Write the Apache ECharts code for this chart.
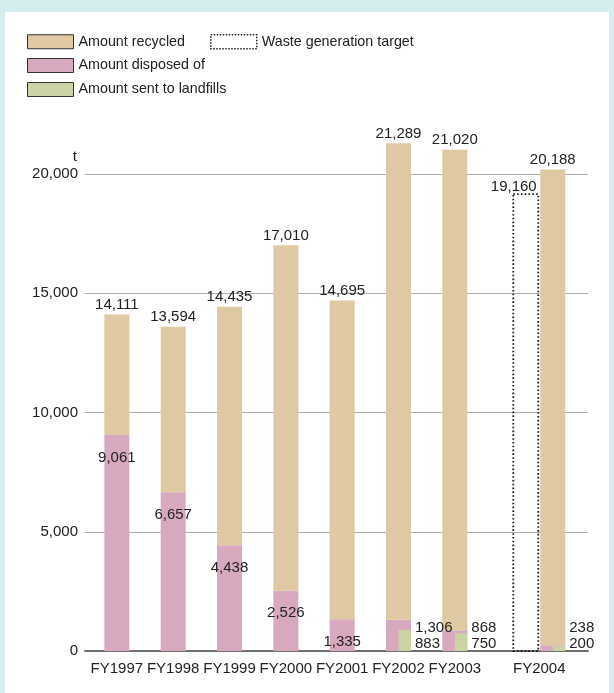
<!DOCTYPE html>
<html>
<head>
<meta charset="utf-8">
<script src="https://cdn.jsdelivr.net/npm/echarts@6/dist/echarts.min.js"></script>
<style>
html, body { margin: 0; padding: 0; background: #d4edef; }
#panel { position: absolute; left: 5px; top: 12px; right: 5px; bottom: 0; background: #fff; }
#main { position: absolute; left: 0; top: 0; width: 614px; height: 693px; }
</style>
</head>
<body>
<div id="panel"></div>
<div id="main"></div>
<script>
var years = ['FY1997', 'FY1998', 'FY1999', 'FY2000', 'FY2001', 'FY2002', 'FY2003', 'FY2004'];
var totals = [14111, 13594, 14435, 17010, 14695, 21289, 21020, 20188];
var disposed = [9061, 6657, 4438, 2526, 1335, 1306, 868, 238];
var landfill = [null, null, null, null, null, 883, 750, 200];
var target = [null, null, null, null, null, null, null, 19160];
var yTicks = [0, 5000, 10000, 15000, 20000];

var font = 'Liberation Sans, Arial, sans-serif';
var tan = '#dfc9a2', pink = '#d8a8bf', green = '#cbd3a5';
var barW = 25, barGapPx = 2;
var valueSize = 15;

function fmt(v) {
    return String(v).replace(/\B(?=(\d{3})+(?!\d))/g, ',');
}

// a year with a target holds two columns, so its slot on the axis is twice as wide
var centers = [];
var pos = 0;
years.forEach(function (y, i) {
    var w = target[i] != null ? 2 : 1;
    centers.push(pos + w / 2);
    pos += w;
});
var xMax = pos;

function shiftOf(i) {
    return target[i] != null ? (barW + barGapPx) / 2 : 0;
}

function textStyle(extra) {
    var s = { fill: '#222', fontSize: valueSize, fontFamily: font };
    for (var k in extra) s[k] = extra[k];
    return s;
}

var recycledData = years.map(function (y, i) { return [centers[i], totals[i], i]; });
var disposedData = years.map(function (y, i) { return [centers[i], disposed[i], i]; });
var targetData = [];
var landfillData = [];
years.forEach(function (y, i) {
    if (target[i] != null) targetData.push([centers[i], target[i], i]);
    if (landfill[i] != null) landfillData.push([centers[i], landfill[i], i]);
});

var legendText = { color: '#222', fontSize: 14.3, fontFamily: font };

var myChart = echarts.init(document.getElementById('main'));
var option = {
    animation: false,
    textStyle: { fontFamily: font },
    legend: [
        {
            left: 27, top: 34, padding: 0, icon: 'rect', itemWidth: 46, itemHeight: 14, itemGap: 25,
            textStyle: legendText,
            data: [
                { name: 'Amount recycled', itemStyle: { color: tan, borderColor: '#333', borderWidth: 1 } },
                { name: 'Waste generation target', itemStyle: { color: '#fff', borderColor: '#222', borderWidth: 1.5, borderType: 'dotted' } }
            ]
        },
        {
            left: 27, top: 58, padding: 0, icon: 'rect', itemWidth: 46, itemHeight: 14,
            textStyle: legendText,
            data: [{ name: 'Amount disposed of', itemStyle: { color: pink, borderColor: '#333', borderWidth: 1 } }]
        },
        {
            left: 27, top: 82, padding: 0, icon: 'rect', itemWidth: 46, itemHeight: 14,
            textStyle: legendText,
            data: [{ name: 'Amount sent to landfills', itemStyle: { color: green, borderColor: '#333', borderWidth: 1 } }]
        }
    ],
    grid: [
        { left: 85, right: 26, top: 174, bottom: 42 },
        { left: 88.7, right: 18.4, top: 174, bottom: 42 }
    ],
    xAxis: [
        {
            gridIndex: 0, type: 'value', min: 0, max: 1,
            axisLine: { lineStyle: { color: '#707070', width: 2 } },
            axisTick: { show: false }, axisLabel: { show: false }, splitLine: { show: false }
        },
        {
            gridIndex: 1, type: 'value', min: 0, max: xMax,
            axisLine: { show: false }, axisTick: { show: false }, splitLine: { show: false },
            axisLabel: {
                color: '#222', fontSize: 15, fontFamily: font, margin: 10,
                customValues: centers,
                formatter: function (v) { return years[centers.indexOf(v)]; }
            }
        }
    ],
    yAxis: [
        {
            gridIndex: 0, type: 'value', min: yTicks[0], max: yTicks[yTicks.length - 1], interval: 5000,
            name: 't', nameLocation: 'end', nameGap: 10,
            nameTextStyle: { color: '#222', fontSize: 15, fontFamily: font, align: 'right', padding: [0, 8, 0, 0] },
            axisLine: { show: false }, axisTick: { show: false },
            axisLabel: { color: '#222', fontSize: 15, fontFamily: font, margin: 7, formatter: fmt },
            splitLine: { lineStyle: { color: '#adadad', width: 1.2 } }
        },
        { gridIndex: 1, type: 'value', min: yTicks[0], max: yTicks[yTicks.length - 1], show: false }
    ],
    series: [
        {
            name: 'Amount disposed of', type: 'custom', xAxisIndex: 1, yAxisIndex: 1,
            itemStyle: { color: pink },
            encode: { x: 0, y: 1 },
            renderItem: function (params, api) {
                var i = api.value(2);
                var cx = api.coord([api.value(0), 0])[0] + shiftOf(i);
                var y0 = api.coord([0, 0])[1];
                var y1 = api.coord([0, api.value(1)])[1];
                var children = [{
                    type: 'rect',
                    shape: { x: cx - barW / 2, y: y1, width: barW, height: y0 - y1 },
                    style: { fill: pink }
                }];
                if (landfill[i] == null) {
                    children.push({
                        type: 'text',
                        style: textStyle({ text: fmt(api.value(1)), x: cx, y: y1 + 15, align: 'center', verticalAlign: 'top' })
                    });
                }
                return { type: 'group', children: children };
            },
            data: disposedData
        },
        {
            name: 'Amount recycled', type: 'custom', xAxisIndex: 1, yAxisIndex: 1,
            itemStyle: { color: tan },
            encode: { x: 0, y: 1 },
            renderItem: function (params, api) {
                var i = api.value(2);
                var cx = api.coord([api.value(0), 0])[0] + shiftOf(i);
                // recycled sits on top of the amount disposed of
                var y0 = api.coord([0, disposed[i]])[1];
                var y1 = api.coord([0, api.value(1)])[1];
                return {
                    type: 'group',
                    children: [
                        { type: 'rect', shape: { x: cx - barW / 2, y: y1, width: barW, height: y0 - y1 }, style: { fill: tan } },
                        { type: 'text', style: textStyle({ text: fmt(api.value(1)), x: cx, y: y1 - 2, align: 'center', verticalAlign: 'bottom' }) }
                    ]
                };
            },
            data: recycledData
        },
        {
            name: 'Waste generation target', type: 'custom', xAxisIndex: 1, yAxisIndex: 1,
            itemStyle: { color: '#fff' },
            encode: { x: 0, y: 1 },
            renderItem: function (params, api) {
                var cx = api.coord([api.value(0), 0])[0] - (barW + barGapPx) / 2;
                var y0 = api.coord([0, 0])[1];
                var y1 = api.coord([0, api.value(1)])[1];
                return {
                    type: 'group',
                    children: [
                        {
                            type: 'rect',
                            shape: { x: cx - barW / 2, y: y1, width: barW, height: y0 - y1 },
                            style: { fill: 'none', stroke: '#1a1a1a', lineWidth: 1.8, lineDash: [1.6, 2.2] }
                        },
                        { type: 'text', style: textStyle({ text: fmt(api.value(1)), x: cx - 12, y: y1, align: 'center', verticalAlign: 'bottom' }) }
                    ]
                };
            },
            data: targetData
        },
        {
            name: 'Amount sent to landfills', type: 'custom', xAxisIndex: 1, yAxisIndex: 1,
            z: 3,
            itemStyle: { color: green },
            encode: { x: 0, y: 1 },
            renderItem: function (params, api) {
                var i = api.value(2);
                var cx = api.coord([api.value(0), 0])[0] + shiftOf(i);
                var y0 = api.coord([0, 0])[1];
                var y1 = api.coord([0, api.value(1)])[1];
                return {
                    type: 'group',
                    children: [
                        { type: 'rect', shape: { x: cx, y: y1, width: barW / 2, height: y0 - y1 }, style: { fill: green } },
                        {
                            type: 'text',
                            style: textStyle({
                                text: fmt(disposed[i]) + '\n' + fmt(api.value(1)),
                                x: cx + barW / 2 + 4, y: y0 + 1,
                                align: 'left', verticalAlign: 'bottom', lineHeight: 16
                            })
                        }
                    ]
                };
            },
            data: landfillData
        }
    ]
};
myChart.setOption(option);
</script>
</body>
</html>
